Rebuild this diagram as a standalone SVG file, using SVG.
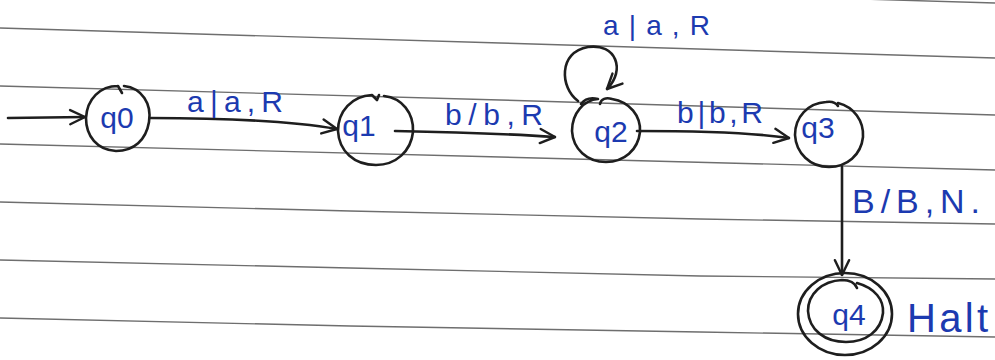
<svg xmlns="http://www.w3.org/2000/svg" width="995" height="360" viewBox="0 0 995 360">
<style>
.rule{fill:none;stroke:#6e6e6e;stroke-width:1.4}
.st{fill:none;stroke:#1e1e1e;stroke-width:2.6;stroke-linecap:round;stroke-linejoin:round}
.lbl{font-family:"Liberation Sans","DejaVu Sans",sans-serif;fill:#1c3ab0}
.nl{font-size:30px;text-anchor:middle}
.el{font-size:30px}
</style>
<defs>
<marker id="arr" viewBox="0 0 14 14" refX="13" refY="7" markerWidth="18" markerHeight="18" markerUnits="userSpaceOnUse" orient="auto">
<path d="M1.5,1.5 L13,7 L1.5,12.5" fill="none" stroke="#1e1e1e" stroke-width="1.9" stroke-linecap="round" stroke-linejoin="round"/>
</marker>
</defs>
<rect width="995" height="360" fill="#ffffff"/>
<g id="paper">
<polyline class="rule" points="760,-4 995,3"/>
<polyline class="rule" points="0,28 500,43 995,58"/>
<polyline class="rule" points="0,86 500,100 995,115"/>
<polyline class="rule" points="0,144 500,157 995,170"/>
<polyline class="rule" points="0,202 350,211 700,219 995,224"/>
<polyline class="rule" points="0,260 350,268 700,276 995,279"/>
<polyline class="rule" points="0,318 350,326 700,332 995,337"/>
</g>
<g id="connectors">
<path class="st" d="M8,118 L85,117" marker-end="url(#arr)"/>
<path class="st" d="M150,118 C215,118 285,120 337,129" marker-end="url(#arr)"/>
<path class="st" d="M395,131 C450,132 510,134 555,137" marker-end="url(#arr)"/>
<path class="st" d="M637,131 C700,131 755,133 789,138" marker-end="url(#arr)"/>
<path class="st" d="M578,101 C560,88 558,52 588,47 C616,43 626,70 607,89" marker-end="url(#arr)"/>
<path class="st" d="M842,167 L842,275" marker-end="url(#arr)"/>
</g>
<g id="q0">
<path class="st" d="M124,86 C142,88 152,104 149,122 C146,140 134,151 116,151 C97,150 86,136 86,118 C87,99 100,86 118,86 M118,86 L122,93"/>
<text class="lbl nl" x="117" y="128">q0</text>
</g>
<g id="q1">
<path class="st" d="M384,96 C402,98 414,113 413,132 C411,151 396,165 376,165 C354,165 339,151 338,131 C338,111 352,96 372,95 L377,100 L379,95"/>
<text class="lbl nl" x="359" y="136">q1</text>
</g>
<g id="q2">
<path class="st" d="M612,99 C630,102 641,116 640,132 C638,150 624,162 606,162 C587,162 573,149 572,131 C572,113 584,100 598,99 C590,97 584,100 581,104 M612,99 C606,97 601,99 600,104"/>
<text class="lbl nl" x="611" y="142">q2</text>
</g>
<g id="q3">
<path class="st" d="M838,103 C854,107 864,121 863,137 C861,155 847,167 829,167 C810,167 796,153 795,135 C795,117 808,103 826,102 C832,101 836,103 838,106"/>
<text class="lbl nl" x="818" y="138">q3</text>
</g>
<g id="q4">
<ellipse class="st" cx="845" cy="314" rx="47" ry="41"/>
<path class="st" d="M857,283 C875,288 884,300 883,313 C881,331 866,342 846,342 C825,342 809,330 808,311 C808,294 822,281 842,280 C850,280 855,283 857,288"/>
<text class="lbl nl" x="849" y="325">q4</text>
</g>
<g id="labels">
<text class="lbl el" x="187" y="112" textLength="96" lengthAdjust="spacing">a|a,R</text>
<text class="lbl el" x="445" y="125" textLength="98" lengthAdjust="spacing">b/b,R</text>
<text class="lbl el" x="677" y="123" textLength="86" lengthAdjust="spacing">b|b,R</text>
<text class="lbl" style="font-size:28px" x="603" y="35" textLength="107" lengthAdjust="spacing">a|a,R</text>
<text class="lbl" style="font-size:34px" x="852" y="213" textLength="128" lengthAdjust="spacing">B/B,N.</text>
<text class="lbl" style="font-size:40px" x="907" y="332" textLength="81" lengthAdjust="spacing">Halt</text>
</g>
</svg>
